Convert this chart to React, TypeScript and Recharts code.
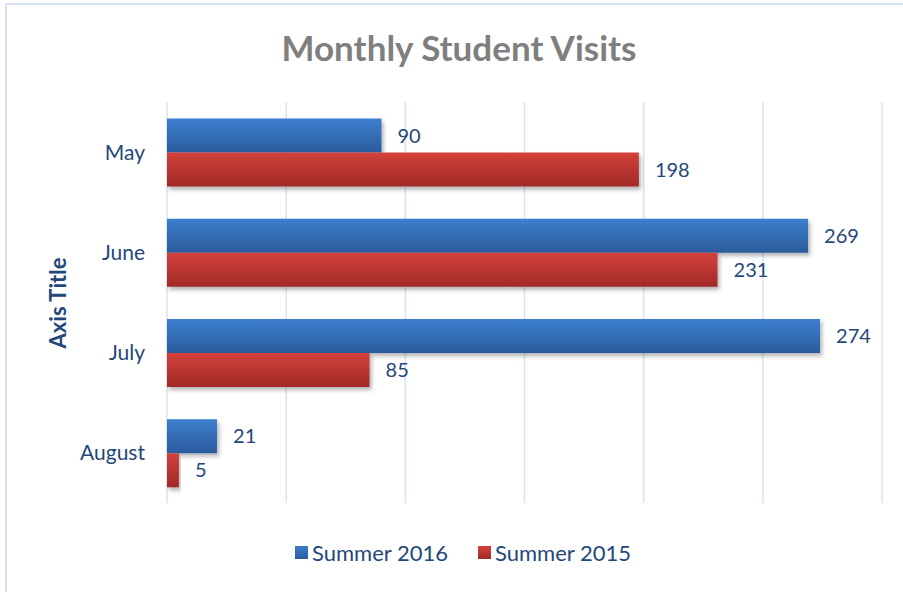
import { BarChart, Bar, XAxis, YAxis, CartesianGrid, Legend, LabelList, Label } from 'recharts';

const months = ['May', 'June', 'July', 'August'];
const summer2016 = [90, 269, 274, 21];
const summer2015 = [198, 231, 85, 5];
const xTicks = [0, 50, 100, 150, 200, 250, 300];

const data = months.map((month, i) => ({
  month,
  s2016: summer2016[i],
  s2015: summer2015[i],
}));

const textColor = '#24477a';
const gridColor = '#d9e3f1';
const font = 'Lato, "Open Sans", sans-serif';

const renderLegend = () => (
  <div style={{ display: 'flex', justifyContent: 'center', gap: 30, fontFamily: font, fontSize: 22, color: textColor }}>
    <span style={{ display: 'flex', alignItems: 'center' }}>
      <span style={{ width: 13, height: 13, background: 'linear-gradient(#3b7ccb, #2b5c9e)', marginRight: 4 }} />
      Summer 2016
    </span>
    <span style={{ display: 'flex', alignItems: 'center' }}>
      <span style={{ width: 13, height: 13, background: 'linear-gradient(#d3403b, #a12a27)', marginRight: 4 }} />
      Summer 2015
    </span>
  </div>
);

export default function App() {
  return (
    <div
      style={{
        position: 'absolute',
        left: 0,
        top: 0,
        width: 903,
        height: 592,
        background: '#fff',
        fontFamily: font,
      }}
    >
      <div
        style={{
          position: 'absolute',
          left: 5,
          top: 3,
          right: 0,
          bottom: 0,
          borderTop: `2px solid ${gridColor}`,
          borderLeft: `2px solid ${gridColor}`,
        }}
      />
      <div
        style={{
          position: 'absolute',
          top: 26,
          left: 0,
          width: 918,
          textAlign: 'center',
          fontSize: 35,
          fontWeight: 700,
          color: '#7f7f7f',
        }}
      >
        Monthly Student Visits
      </div>
      <BarChart
        width={903}
        height={592}
        data={data}
        layout="vertical"
        margin={{ top: 102, right: 21, bottom: 62, left: 0 }}
        barCategoryGap="16.5%"
        barGap={0}
        style={{ position: 'absolute', left: 0, top: 0 }}
      >
        <defs>
          <linearGradient id="blueGrad" x1="0" y1="0" x2="0" y2="1">
            <stop offset="0%" stopColor="#3d7fcf" />
            <stop offset="100%" stopColor="#2b5b9c" />
          </linearGradient>
          <linearGradient id="redGrad" x1="0" y1="0" x2="0" y2="1">
            <stop offset="0%" stopColor="#d4413c" />
            <stop offset="100%" stopColor="#a02a27" />
          </linearGradient>
          <filter id="shadow" x="-5%" y="-20%" width="115%" height="160%">
            <feDropShadow dx="2" dy="3" stdDeviation="2" floodColor="#000" floodOpacity="0.3" />
          </filter>
        </defs>
        <CartesianGrid horizontal={false} stroke={gridColor} strokeWidth={1.5} />
        <XAxis type="number" domain={[0, 300]} ticks={xTicks} hide />
        <YAxis
          type="category"
          dataKey="month"
          width={167}
          axisLine={false}
          tickLine={false}
          tickMargin={16}
          tick={{ fill: textColor, fontSize: 21, fontFamily: font }}
        >
          <Label
            content={() => (
              <text
                x={57}
                y={303}
                transform="rotate(-90 57 303)"
                textAnchor="middle"
                dominantBaseline="central"
                fill={textColor}
                fontSize={22}
                fontWeight={700}
                fontFamily={font}
              >
                Axis Title
              </text>
            )}
          />
        </YAxis>
        <Legend
          verticalAlign="bottom"
          content={renderLegend}
          wrapperStyle={{ top: 539, bottom: 'auto', left: 0, width: 926 }}
        />
        <Bar dataKey="s2016" name="Summer 2016" fill="url(#blueGrad)" filter="url(#shadow)" isAnimationActive={false}>
          <LabelList dataKey="s2016" position="right" offset={16} fill={textColor} fontSize={20} fontFamily={font} />
        </Bar>
        <Bar dataKey="s2015" name="Summer 2015" fill="url(#redGrad)" filter="url(#shadow)" isAnimationActive={false}>
          <LabelList dataKey="s2015" position="right" offset={16} fill={textColor} fontSize={20} fontFamily={font} />
        </Bar>
      </BarChart>
    </div>
  );
}
